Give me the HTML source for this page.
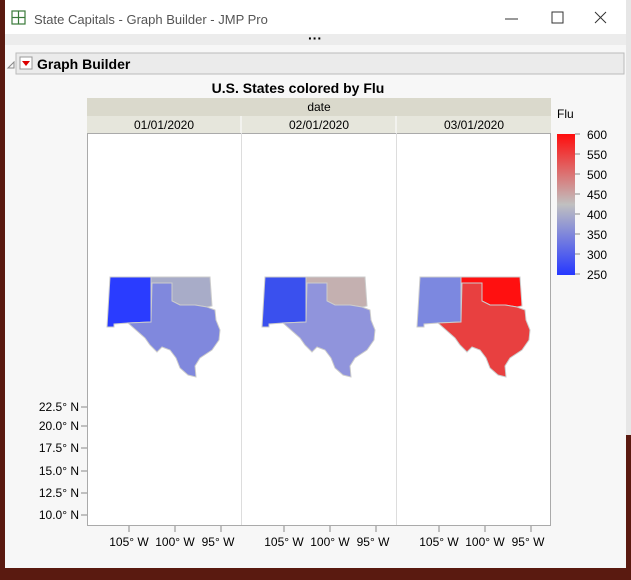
<!DOCTYPE html>
<html><head><style>
body{margin:0;width:631px;height:575px;overflow:hidden;background:#5a1a10;font-family:"Liberation Sans",sans-serif}
</style></head><body>
<svg width="631" height="575" xmlns="http://www.w3.org/2000/svg" font-family="Liberation Sans, sans-serif">
<defs>
<linearGradient id="g" x1="0" y1="0" x2="0" y2="1">
<stop offset="0" stop-color="#ff0d0d"/><stop offset="0.5" stop-color="#c0c0c0"/><stop offset="1" stop-color="#2638ff"/>
</linearGradient>
<g id="nm"><polygon points="110,277 151,277 151,322 128,323 114,324 114,327 107,327"/></g>
<g id="ok"><polygon points="151,277 210,277 212,306 207,307 195,305 180,305 172,301 172,283 151,283"/></g>
<g id="tx"><polygon points="152,283 172,283 172,301 180,305 195,305 207,307 215,310 216,320 220,330 219,340 212,350 200,358 195,366 196,377 188,375 180,368 176,358 170,350 162,347 157,352 150,345 145,338 128,323 151,322"/></g>
</defs>
<rect x="0" y="0" width="631" height="575" fill="#5a1a10"/>
<rect x="380" y="0" width="251" height="8" fill="#e8e8e8"/>
<rect x="626" y="0" width="5" height="435" fill="#e6e6e6"/>
<rect x="5" y="0" width="621" height="568" fill="#f7f7f7"/>
<rect x="5" y="0" width="621" height="34" fill="#ffffff"/>
<rect x="5" y="34" width="621" height="11" fill="#ececec"/>
<text x="315" y="43" font-size="14" text-anchor="middle" font-weight="bold">···</text>
<g fill="none" stroke="#3a7a3a" stroke-width="1.2"><rect x="12" y="11" width="13" height="13"/><line x1="18.5" y1="11" x2="18.5" y2="24"/><line x1="12" y1="17.5" x2="25" y2="17.5"/></g>
<text x="34" y="24" font-size="13" fill="#555">State Capitals - Graph Builder - JMP Pro</text>
<line x1="505" y1="19" x2="518" y2="19" stroke="#333"/>
<rect x="552" y="12" width="11" height="11" fill="none" stroke="#333"/>
<path d="M595 12 L606 23 M606 12 L595 23" stroke="#333"/>
<rect x="16" y="53" width="608" height="21" fill="#ebebeb" stroke="#bbb"/>
<path d="M8 68 L14 62 L14 68 Z" fill="none" stroke="#888"/>
<rect x="20" y="57" width="12" height="12" fill="#fff" stroke="#999"/>
<path d="M22 61 L30 61 L26 66 Z" fill="#d00"/>
<text x="37" y="69" font-size="14" font-weight="bold">Graph Builder</text>
<text x="298" y="93" font-size="14" font-weight="bold" text-anchor="middle">U.S. States colored by Flu</text>
<rect x="87" y="98" width="464" height="18" fill="#dad9cc"/>
<text x="319" y="111" font-size="12" text-anchor="middle">date</text>
<rect x="87" y="116" width="464" height="17" fill="#e6e6dc"/>
<line x1="241" y1="116" x2="241" y2="133" stroke="#fff"/><line x1="396" y1="116" x2="396" y2="133" stroke="#fff"/>
<g font-size="12" text-anchor="middle"><text x="164" y="129">01/01/2020</text><text x="319" y="129">02/01/2020</text><text x="474" y="129">03/01/2020</text></g>
<rect x="87.5" y="133.5" width="463" height="392" fill="#fff" stroke="#aaa"/>
<line x1="241.5" y1="133" x2="241.5" y2="525" stroke="#ddd"/><line x1="396.5" y1="133" x2="396.5" y2="525" stroke="#ddd"/>
<g stroke="#ccc" stroke-width="1">
<use href="#nm" fill="#2a3cff"/><use href="#ok" fill="#a8acc8"/><use href="#tx" fill="#8088dd"/>
<g transform="translate(155,0)"><use href="#nm" fill="#3a50ee"/><use href="#ok" fill="#c4b0b0"/><use href="#tx" fill="#9094dc"/></g>
<g transform="translate(310,0)"><use href="#nm" fill="#7c88e0"/><use href="#ok" fill="#ff1010"/><use href="#tx" fill="#e84040"/></g>
</g>
<g stroke="#888"><line x1="81" y1="407" x2="87" y2="407"/><line x1="81" y1="426" x2="87" y2="426"/><line x1="81" y1="448" x2="87" y2="448"/><line x1="81" y1="471" x2="87" y2="471"/><line x1="81" y1="493" x2="87" y2="493"/><line x1="81" y1="515" x2="87" y2="515"/></g>
<g font-size="12" text-anchor="end"><text x="79" y="411">22.5° N</text><text x="79" y="430">20.0° N</text><text x="79" y="452">17.5° N</text><text x="79" y="475">15.0° N</text><text x="79" y="497">12.5° N</text><text x="79" y="519">10.0° N</text></g>
<g stroke="#888">
<line x1="129" y1="526" x2="129" y2="532"/><line x1="175" y1="526" x2="175" y2="532"/><line x1="221" y1="526" x2="221" y2="532"/>
<line x1="284" y1="526" x2="284" y2="532"/><line x1="330" y1="526" x2="330" y2="532"/><line x1="376" y1="526" x2="376" y2="532"/>
<line x1="439" y1="526" x2="439" y2="532"/><line x1="485" y1="526" x2="485" y2="532"/><line x1="531" y1="526" x2="531" y2="532"/>
</g>
<g font-size="12" text-anchor="middle">
<text x="129" y="546">105° W</text><text x="175" y="546">100° W</text><text x="218" y="546">95° W</text>
<text x="284" y="546">105° W</text><text x="330" y="546">100° W</text><text x="373" y="546">95° W</text>
<text x="439" y="546">105° W</text><text x="485" y="546">100° W</text><text x="528" y="546">95° W</text>
</g>
<text x="557" y="118" font-size="12">Flu</text>
<rect x="557" y="134" width="18" height="141" fill="url(#g)"/>
<g font-size="12">
<text x="587" y="139">600</text><text x="587" y="159">550</text><text x="587" y="179">500</text><text x="587" y="199">450</text><text x="587" y="219">400</text><text x="587" y="239">350</text><text x="587" y="259">300</text><text x="587" y="279">250</text>
</g>
<g stroke="#888"><line x1="575" y1="134" x2="580" y2="134"/><line x1="575" y1="154" x2="580" y2="154"/><line x1="575" y1="174" x2="580" y2="174"/><line x1="575" y1="194" x2="580" y2="194"/><line x1="575" y1="214" x2="580" y2="214"/><line x1="575" y1="234" x2="580" y2="234"/><line x1="575" y1="254" x2="580" y2="254"/><line x1="575" y1="274" x2="580" y2="274"/></g>
</svg>
</body></html>
